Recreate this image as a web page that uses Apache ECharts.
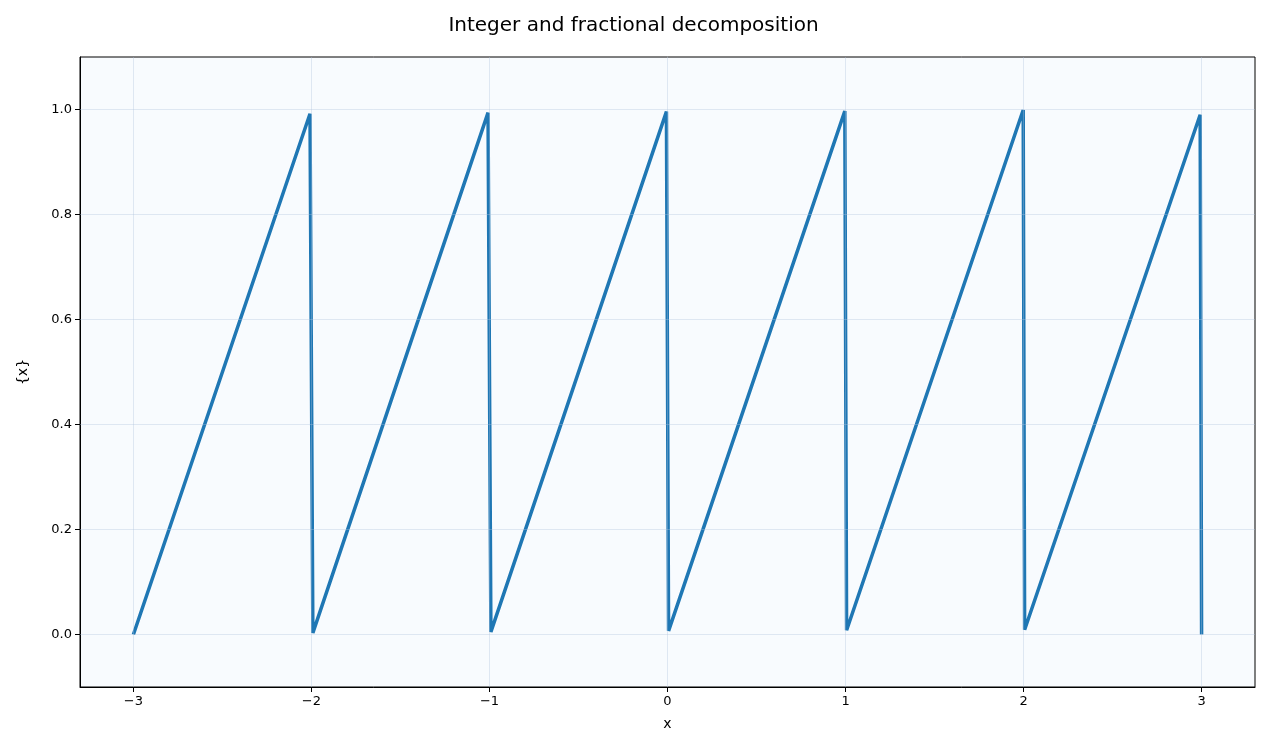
<!DOCTYPE html>
<html>
<head>
<meta charset="utf-8">
<script src="https://cdn.jsdelivr.net/npm/echarts@6/dist/echarts.min.js"></script>
<style>html,body{margin:0;padding:0;background:#fff}#c{width:1267px;height:755px}</style>
</head>
<body>
<div id="c"></div>
<script>
// sawtooth {x} = x - floor(x)
const xs = [-3, -2.008, -1.992, -1.008, -0.992, -0.006, 0.006, 0.996, 1.006, 1.998, 2.006, 2.992, 3]
const ys = [0, 0.992, 0.003, 0.994, 0.005, 0.996, 0.007, 0.997, 0.008, 0.999, 0.009, 0.99, 0]
const xTicks = [-3, -2, -1, 0, 1, 2, 3]
const yTicks = [0, 0.2, 0.4, 0.6, 0.8, 1.0]

const FONT = 'DejaVu Sans'
const gridLine = { color: 'rgba(176,196,222,0.35)', width: 1, type: 'solid' }

const chart = echarts.init(document.getElementById('c'), null, { renderer: 'canvas' })
chart.setOption({
  animation: false,
  backgroundColor: '#fff',
  title: {
    text: 'Integer and fractional decomposition',
    left: 'center', top: 11,
    textStyle: { fontFamily: FONT, fontSize: 20, fontWeight: 'normal', color: '#000' },
  },
  grid: { left: 80, right: 12, top: 57, bottom: 68, show: true, backgroundColor: '#f8fbfe', borderColor: '#000', borderWidth: 1 },
  xAxis: {
    type: 'value', min: -3.3, max: 3.3,
    name: 'x', nameLocation: 'middle', nameGap: 30,
    nameTextStyle: { fontFamily: FONT, fontSize: 14, color: '#000' },
    axisLine: { show: true, onZero: false, lineStyle: { color: '#000' } },
    axisTick: { show: true, inside: false, length: 5, customValues: xTicks, lineStyle: { color: '#000' } },
    axisLabel: { customValues: xTicks, fontFamily: FONT, fontSize: 13, color: '#000', margin: 8,
      formatter: v => String(v).replace('-', '\u2212') },
    splitLine: { show: false },
  },
  yAxis: {
    type: 'value', min: -0.1, max: 1.1,
    name: '{x}', nameLocation: 'middle', nameGap: 50,
    nameTextStyle: { fontFamily: FONT, fontSize: 14, color: '#000' },
    axisLine: { show: true, onZero: false, lineStyle: { color: '#000' } },
    axisTick: { show: true, inside: false, length: 5, customValues: yTicks, lineStyle: { color: '#000' } },
    axisLabel: { customValues: yTicks, fontFamily: FONT, fontSize: 13, color: '#000', margin: 8,
      formatter: v => v.toFixed(1) },
    splitLine: { show: false },
  },
  series: [{
    type: 'line',
    data: xs.map((x, i) => [x, ys[i]]),
    showSymbol: false,
    lineStyle: { color: '#1f77b4', width: 3.5 },
    markLine: {
      silent: true, symbol: 'none', label: { show: false },
      lineStyle: gridLine,
      data: [...xTicks.map(v => ({ xAxis: v })), ...yTicks.map(v => ({ yAxis: v }))],
    },
    z: 3,
  }],
})
</script>
</body>
</html>
